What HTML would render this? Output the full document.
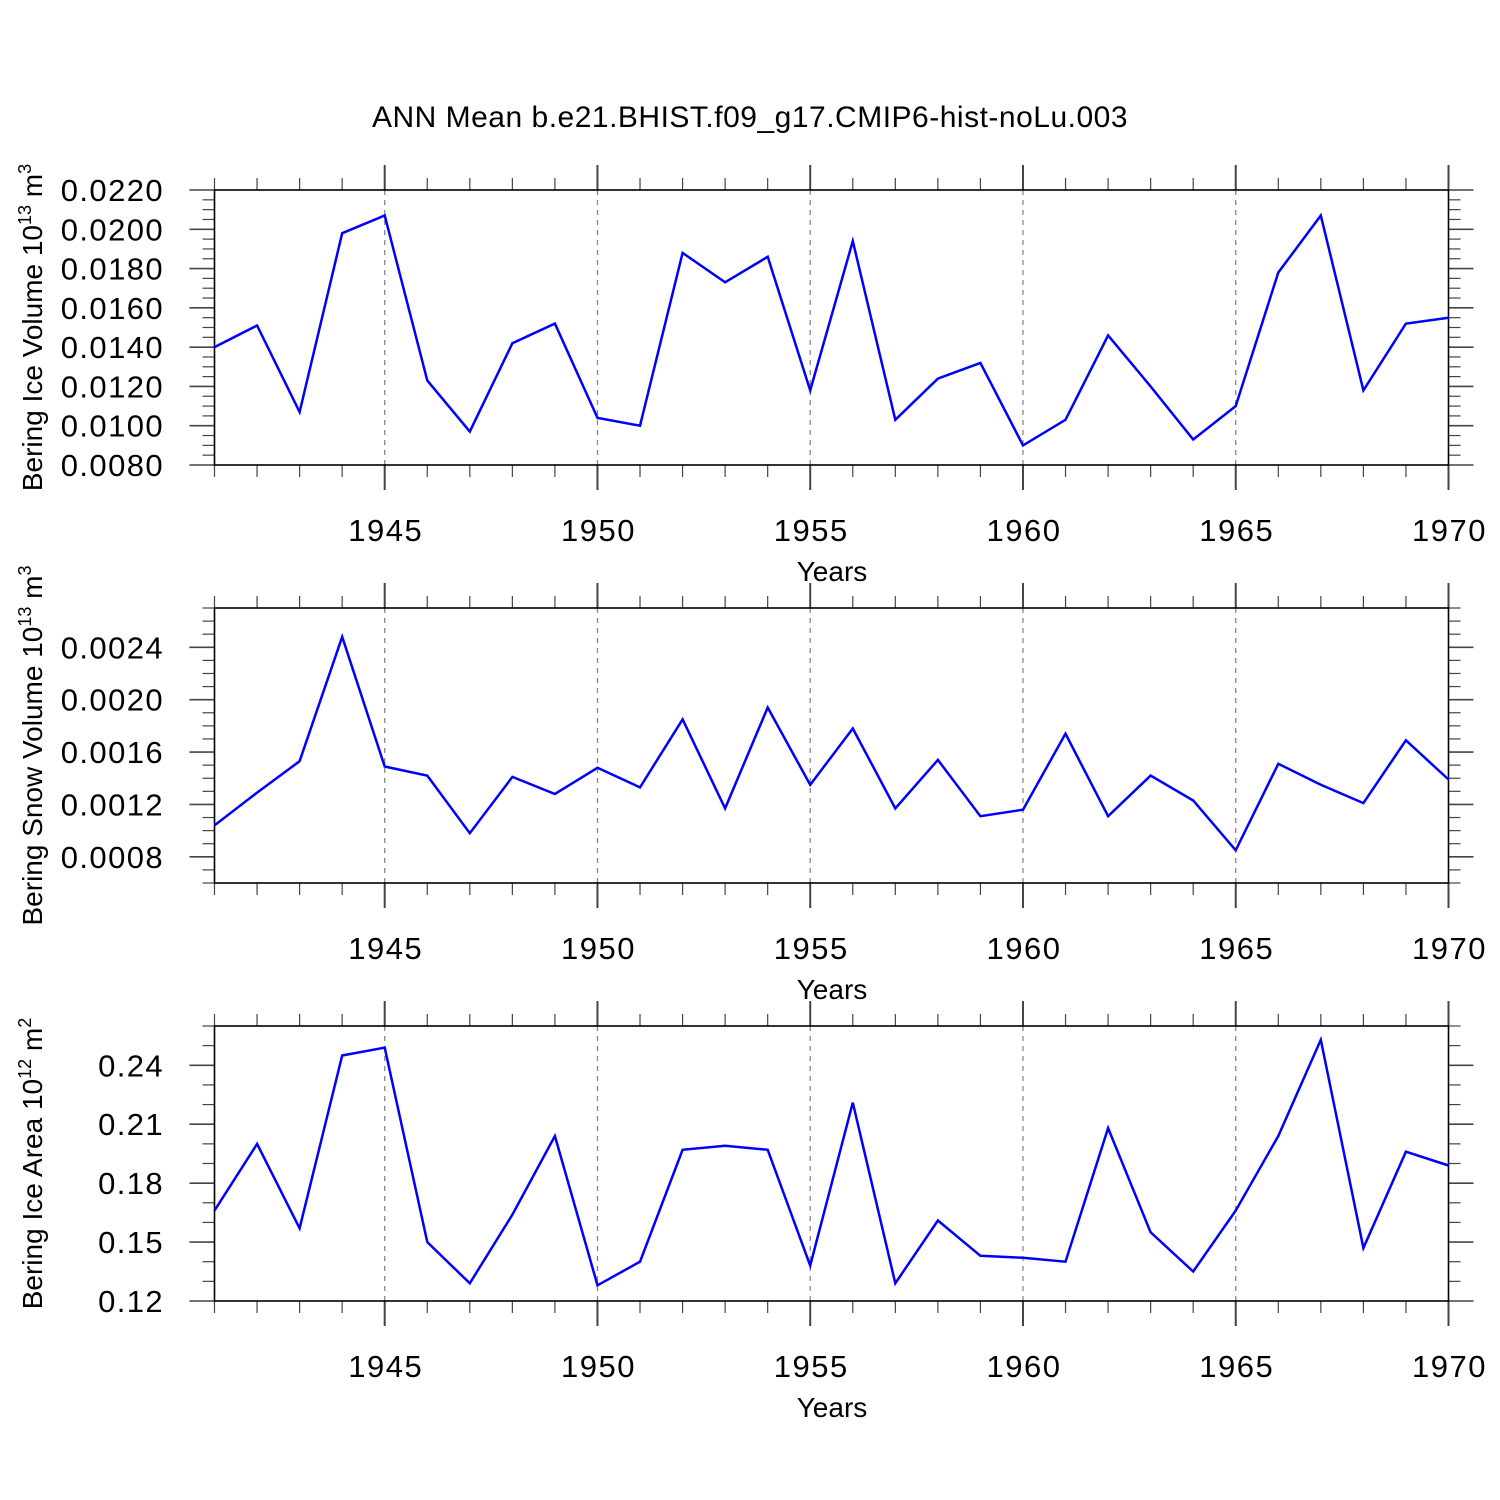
<!DOCTYPE html>
<html><head><meta charset="utf-8"><style>
html,body{margin:0;padding:0;background:#fff}
svg{display:block;font-family:"Liberation Sans",sans-serif}
</style></head><body>
<svg id="chart" width="1500" height="1500" viewBox="0 0 1500 1500" xmlns="http://www.w3.org/2000/svg">
<text x="750" y="127" text-anchor="middle" font-size="30" letter-spacing="0.5">ANN Mean b.e21.BHIST.f09_g17.CMIP6-hist-noLu.003</text>
</svg>
<script>
const years = [1941,1942,1943,1944,1945,1946,1947,1948,1949,1950,1951,1952,1953,1954,1955,1956,1957,1958,1959,1960,1961,1962,1963,1964,1965,1966,1967,1968,1969,1970];
const iceVolume = [0.0140,0.0151,0.0107,0.0198,0.0207,0.0123,0.0097,0.0142,0.0152,0.0104,0.0100,0.0188,0.0173,0.0186,0.0118,0.0194,0.0103,0.0124,0.0132,0.0090,0.0103,0.0146,0.0120,0.0093,0.0110,0.0178,0.0207,0.0118,0.0152,0.0155];
const snowVolume = [0.00104,0.00129,0.00153,0.00248,0.00149,0.00142,0.00098,0.00141,0.00128,0.00148,0.00133,0.00185,0.00117,0.00194,0.00135,0.00178,0.00117,0.00154,0.00111,0.00116,0.00174,0.00111,0.00142,0.00123,0.00085,0.00151,0.00135,0.00121,0.00169,0.00139];
const iceArea = [0.166,0.200,0.157,0.245,0.249,0.150,0.129,0.164,0.204,0.128,0.140,0.197,0.199,0.197,0.138,0.221,0.129,0.161,0.143,0.142,0.140,0.208,0.155,0.135,0.166,0.204,0.253,0.147,0.196,0.189];
const xTickLabels = ["1945","1950","1955","1960","1965","1970"];
const iceVolTicks = ["0.0080","0.0100","0.0120","0.0140","0.0160","0.0180","0.0200","0.0220"];
const snowVolTicks = ["0.0008","0.0012","0.0016","0.0020","0.0024"];
const areaTicks = ["0.12","0.15","0.18","0.21","0.24"];

const NS="http://www.w3.org/2000/svg";
const svg=document.getElementById('chart');
function mk(tag,attrs,parent){const e=document.createElementNS(NS,tag);for(const k in attrs)e.setAttribute(k,attrs[k]);(parent||svg).appendChild(e);return e;}
const X0=214.5,X1=1448.5,XMIN=1941,XMAX=1970;
function xs(v){return X0+(v-XMIN)/(XMAX-XMIN)*(X1-X0);}

const panels=[
 {top:190,ymin:0.008,ymax:0.022,data:iceVolume,ticks:iceVolTicks,minor:0.0005,title:"Bering Ice Volume 10",sup:"13",unit:" m",usup:"3",name:"ice-volume"},
 {top:608,ymin:0.0006,ymax:0.0027,data:snowVolume,ticks:snowVolTicks,minor:0.0001,title:"Bering Snow Volume 10",sup:"13",unit:" m",usup:"3",name:"snow-volume"},
 {top:1026,ymin:0.12,ymax:0.26,data:iceArea,ticks:areaTicks,minor:0.01,title:"Bering Ice Area 10",sup:"12",unit:" m",usup:"2",name:"ice-area"}
];
panels.forEach(p=>{
 const H=275,top=p.top,bot=top+H;
 const g=mk('g',{});
 
 
 const ys=v=>bot-(v-p.ymin)/(p.ymax-p.ymin)*H;
 for(let yr=1945;yr<1970;yr+=5){
  const l=mk('line',{x1:xs(yr),x2:xs(yr),y1:top,y2:bot,stroke:'#888','stroke-width':1.3,'stroke-dasharray':'5,5'},g);
  
  
 }
 for(let yr=XMIN;yr<=XMAX;yr++){
  const major=yr%5===0,len=major?25:12,x=xs(yr);
  mk('line',{x1:x,x2:x,y1:top,y2:top-len,stroke:'#444','stroke-width':major?2:1.2},g);
  mk('line',{x1:x,x2:x,y1:bot,y2:bot+len,stroke:'#444','stroke-width':major?2:1.2},g);
 }
 const nMin=Math.round((p.ymax-p.ymin)/p.minor);
 const majorVals=p.ticks.map(Number);
 for(let i=0;i<=nMin;i++){
  const v=p.ymin+i*p.minor;const y=ys(v);
  const major=majorVals.some(m=>Math.abs(m-v)<p.minor*0.01);
  const len=major?25:12;
  mk('line',{x1:X0,x2:X0-len,y1:y,y2:y,stroke:'#444','stroke-width':major?1.6:1.2},g);
  mk('line',{x1:X1,x2:X1+len,y1:y,y2:y,stroke:'#444','stroke-width':major?1.6:1.2},g);
 }
 p.ticks.forEach(t=>{
  const tx=mk('text',{x:164,y:ys(Number(t))+11,'text-anchor':'end','font-size':31,'letter-spacing':1.4},g);
  
  
  tx.textContent=t;
 });
 xTickLabels.forEach(t=>{
  const tx=mk('text',{x:xs(Number(t))+1,y:bot+76,'text-anchor':'middle','font-size':31,'letter-spacing':1.5},g);
  
  
  tx.textContent=t;
 });
 const xt=mk('text',{x:832,y:bot+116,'text-anchor':'middle','font-size':28},g);
 
 
 xt.textContent='Years';
 const yt=mk('text',{x:0,y:0,'text-anchor':'middle','font-size':28,transform:`translate(42,${top+H/2}) rotate(-90)`},g);
 
 
 const s1=document.createElementNS(NS,'tspan');s1.textContent=p.title;yt.appendChild(s1);
 const s2=document.createElementNS(NS,'tspan');s2.setAttribute('dy','-11');s2.setAttribute('font-size','18');s2.textContent=p.sup;yt.appendChild(s2);
 const s3=document.createElementNS(NS,'tspan');s3.setAttribute('dy','11');s3.textContent=p.unit;yt.appendChild(s3);
 const s4=document.createElementNS(NS,'tspan');s4.setAttribute('dy','-11');s4.setAttribute('font-size','18');s4.textContent=p.usup;yt.appendChild(s4);
 const fr=mk('rect',{x:X0,y:top,width:X1-X0,height:H,fill:'none',stroke:'#000','stroke-width':1.6},g);
 
 
 const pts=years.map((yr,i)=>xs(yr).toFixed(1)+','+ys(p.data[i]).toFixed(1)).join(' ');
 const pl=mk('polyline',{points:pts,fill:'none',stroke:'#0000ff','stroke-width':2.5,'stroke-linejoin':'miter'},g);
 
 
});
</script>
</body></html>
